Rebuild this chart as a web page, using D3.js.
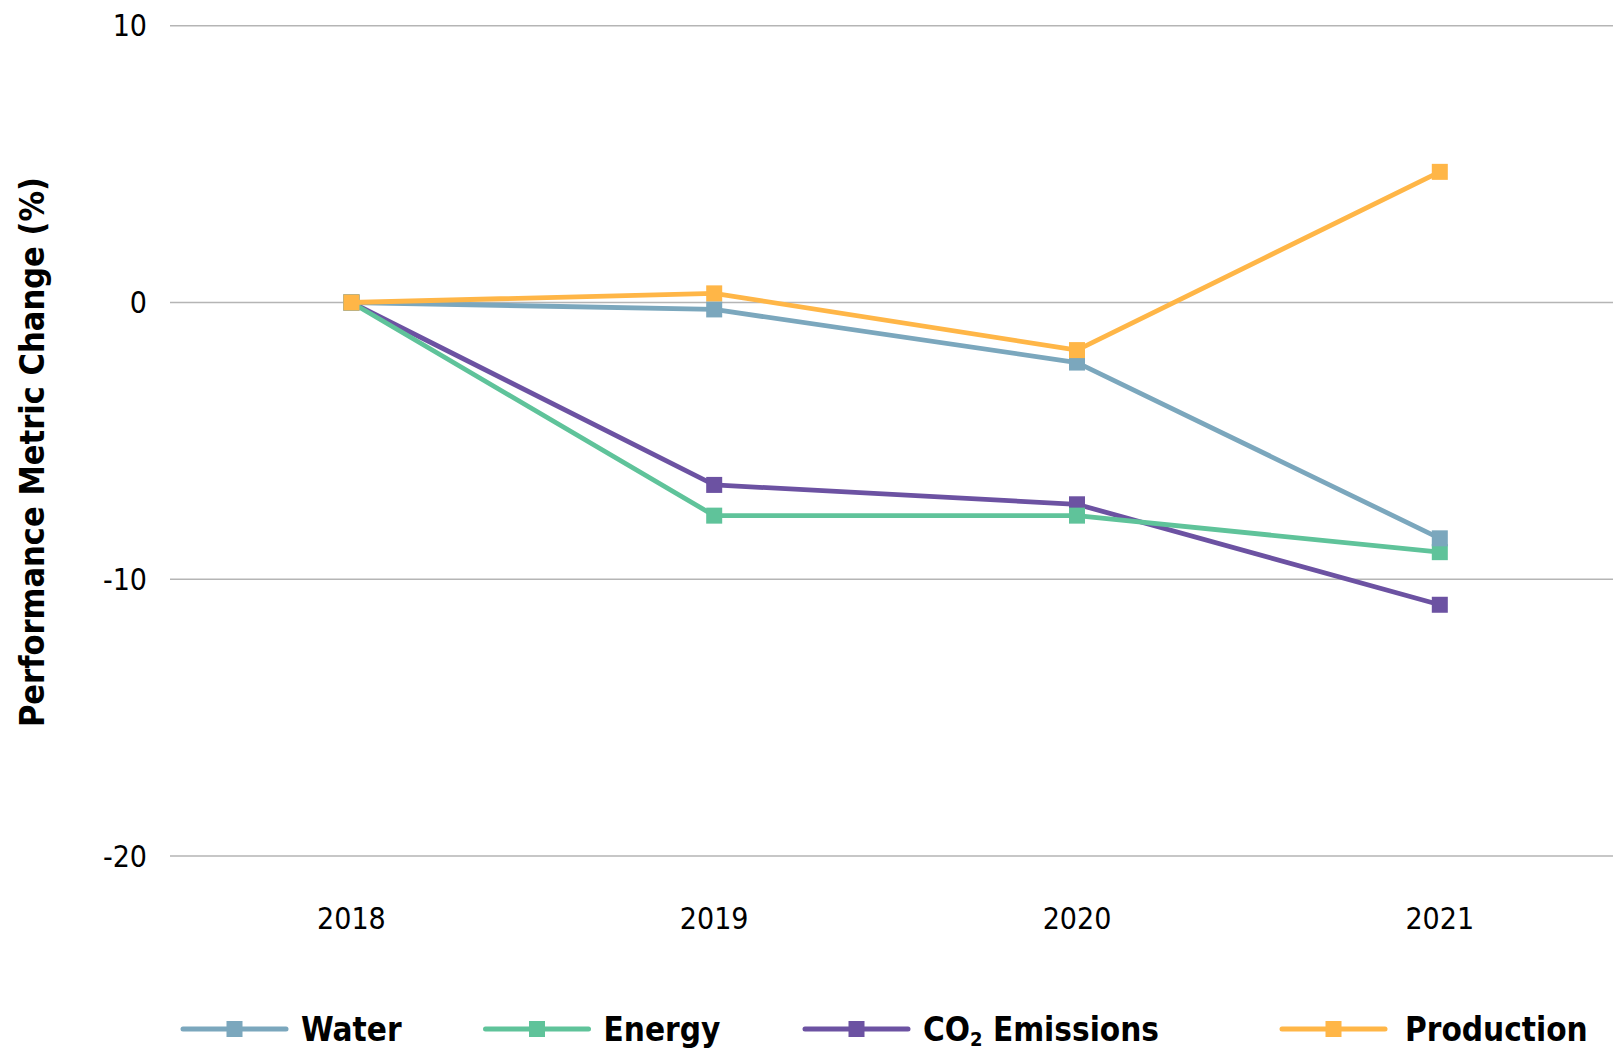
<!DOCTYPE html>
<html>
<head>
<meta charset="utf-8">
<script src="https://cdn.jsdelivr.net/npm/d3@7"></script>
<style>
  body { margin: 0; background: #fff; }
  text { font-family: "DejaVu Sans Condensed", "DejaVu Sans", sans-serif; fill: #000; }
</style>
</head>
<body>
<div id="chart"></div>
<script>
var years = ["2018", "2019", "2020", "2021"];
var seriesNames = ["Water", "Energy", "CO2 Emissions", "Production"];
var water = [0, -0.25, -2.17, -8.52];
var energy = [0, -7.7, -7.7, -9.02];
var co2 = [0, -6.59, -7.29, -10.92];
var production = [0, 0.33, -1.72, 4.72];
var yTicks = [10, 0, -10, -20];
var colors = ["#7ba7bd", "#5fc39a", "#6c52a2", "#ffb647"];

var width = 1613, height = 1050;
var margin = {top: 25.7, left: 170};

var svg = d3.select("#chart").append("svg")
    .attr("width", width)
    .attr("height", height);

var x = d3.scaleBand()
    .domain(years)
    .range([margin.left, margin.left + 4 * 362.8]);

var y = d3.scaleLinear()
    .domain([10, -20])
    .range([margin.top, margin.top + 830.4]);

// grid lines
svg.selectAll("line.grid").data(yTicks).enter()
    .append("line")
    .attr("class", "grid")
    .attr("x1", margin.left)
    .attr("x2", width)
    .attr("y1", function(d) { return y(d); })
    .attr("y2", function(d) { return y(d); })
    .attr("stroke", "#b5b5b5")
    .attr("stroke-width", 1.5);

// y tick labels
svg.selectAll("text.ytick").data(yTicks).enter()
    .append("text")
    .attr("class", "ytick")
    .attr("x", 147)
    .attr("y", function(d) { return y(d); })
    .attr("dy", "0.35em")
    .attr("text-anchor", "end")
    .attr("font-size", "30px")
    .text(function(d) { return d; });

// x tick labels
svg.selectAll("text.xtick").data(years).enter()
    .append("text")
    .attr("class", "xtick")
    .attr("x", function(d) { return x(d) + x.bandwidth() / 2; })
    .attr("y", 929)
    .attr("text-anchor", "middle")
    .attr("font-size", "30px")
    .text(function(d) { return d; });

svg.append("text")
    .attr("transform", "translate(44,452) rotate(-90)")
    .attr("text-anchor", "middle")
    .attr("font-size", "34px")
    .attr("font-weight", "bold")
    .text("Performance Metric Change (%)");

var allSeries = [water, energy, co2, production];
var line = d3.line()
    .x(function(d, i) { return x(years[i]) + x.bandwidth() / 2; })
    .y(function(d) { return y(d); });

// draw in order so production/water sit on top like the original
var drawOrder = [2, 1, 0, 3];
drawOrder.forEach(function(k) {
    var g = svg.append("g");
    g.append("path")
        .datum(allSeries[k])
        .attr("d", line)
        .attr("fill", "none")
        .attr("stroke", colors[k])
        .attr("stroke-width", 4.8)
        .attr("stroke-linejoin", "round");
    g.selectAll("rect").data(allSeries[k]).enter()
        .append("rect")
        .attr("x", function(d, i) { return x(years[i]) + x.bandwidth() / 2 - 8; })
        .attr("y", function(d) { return y(d) - 8; })
        .attr("width", 16)
        .attr("height", 16)
        .attr("fill", colors[k]);
});

// legend
var legendX = [183, 485.5, 805, 1282];
var legendY = 1029;
seriesNames.forEach(function(name, k) {
    var g = svg.append("g").attr("transform", "translate(" + legendX[k] + "," + legendY + ")");
    g.append("line")
        .attr("x1", 0).attr("x2", 103)
        .attr("stroke", colors[k])
        .attr("stroke-width", 5)
        .attr("stroke-linecap", "round");
    g.append("rect")
        .attr("x", 43.5).attr("y", -8)
        .attr("width", 16).attr("height", 16)
        .attr("fill", colors[k]);
    var t = g.append("text")
        .attr("x", legendX[k] === 1282 ? 123 : 118)
        .attr("dy", "0.35em")
        .attr("font-size", "33px")
        .attr("font-weight", "bold");
    if (name === "CO2 Emissions") {
        t.append("tspan").text("CO");
        t.append("tspan").attr("font-size", "20px").attr("dy", 5).text("2");
        t.append("tspan").attr("dy", -5).text(" Emissions");
    } else {
        t.text(name);
    }
});
</script>
</body>
</html>
